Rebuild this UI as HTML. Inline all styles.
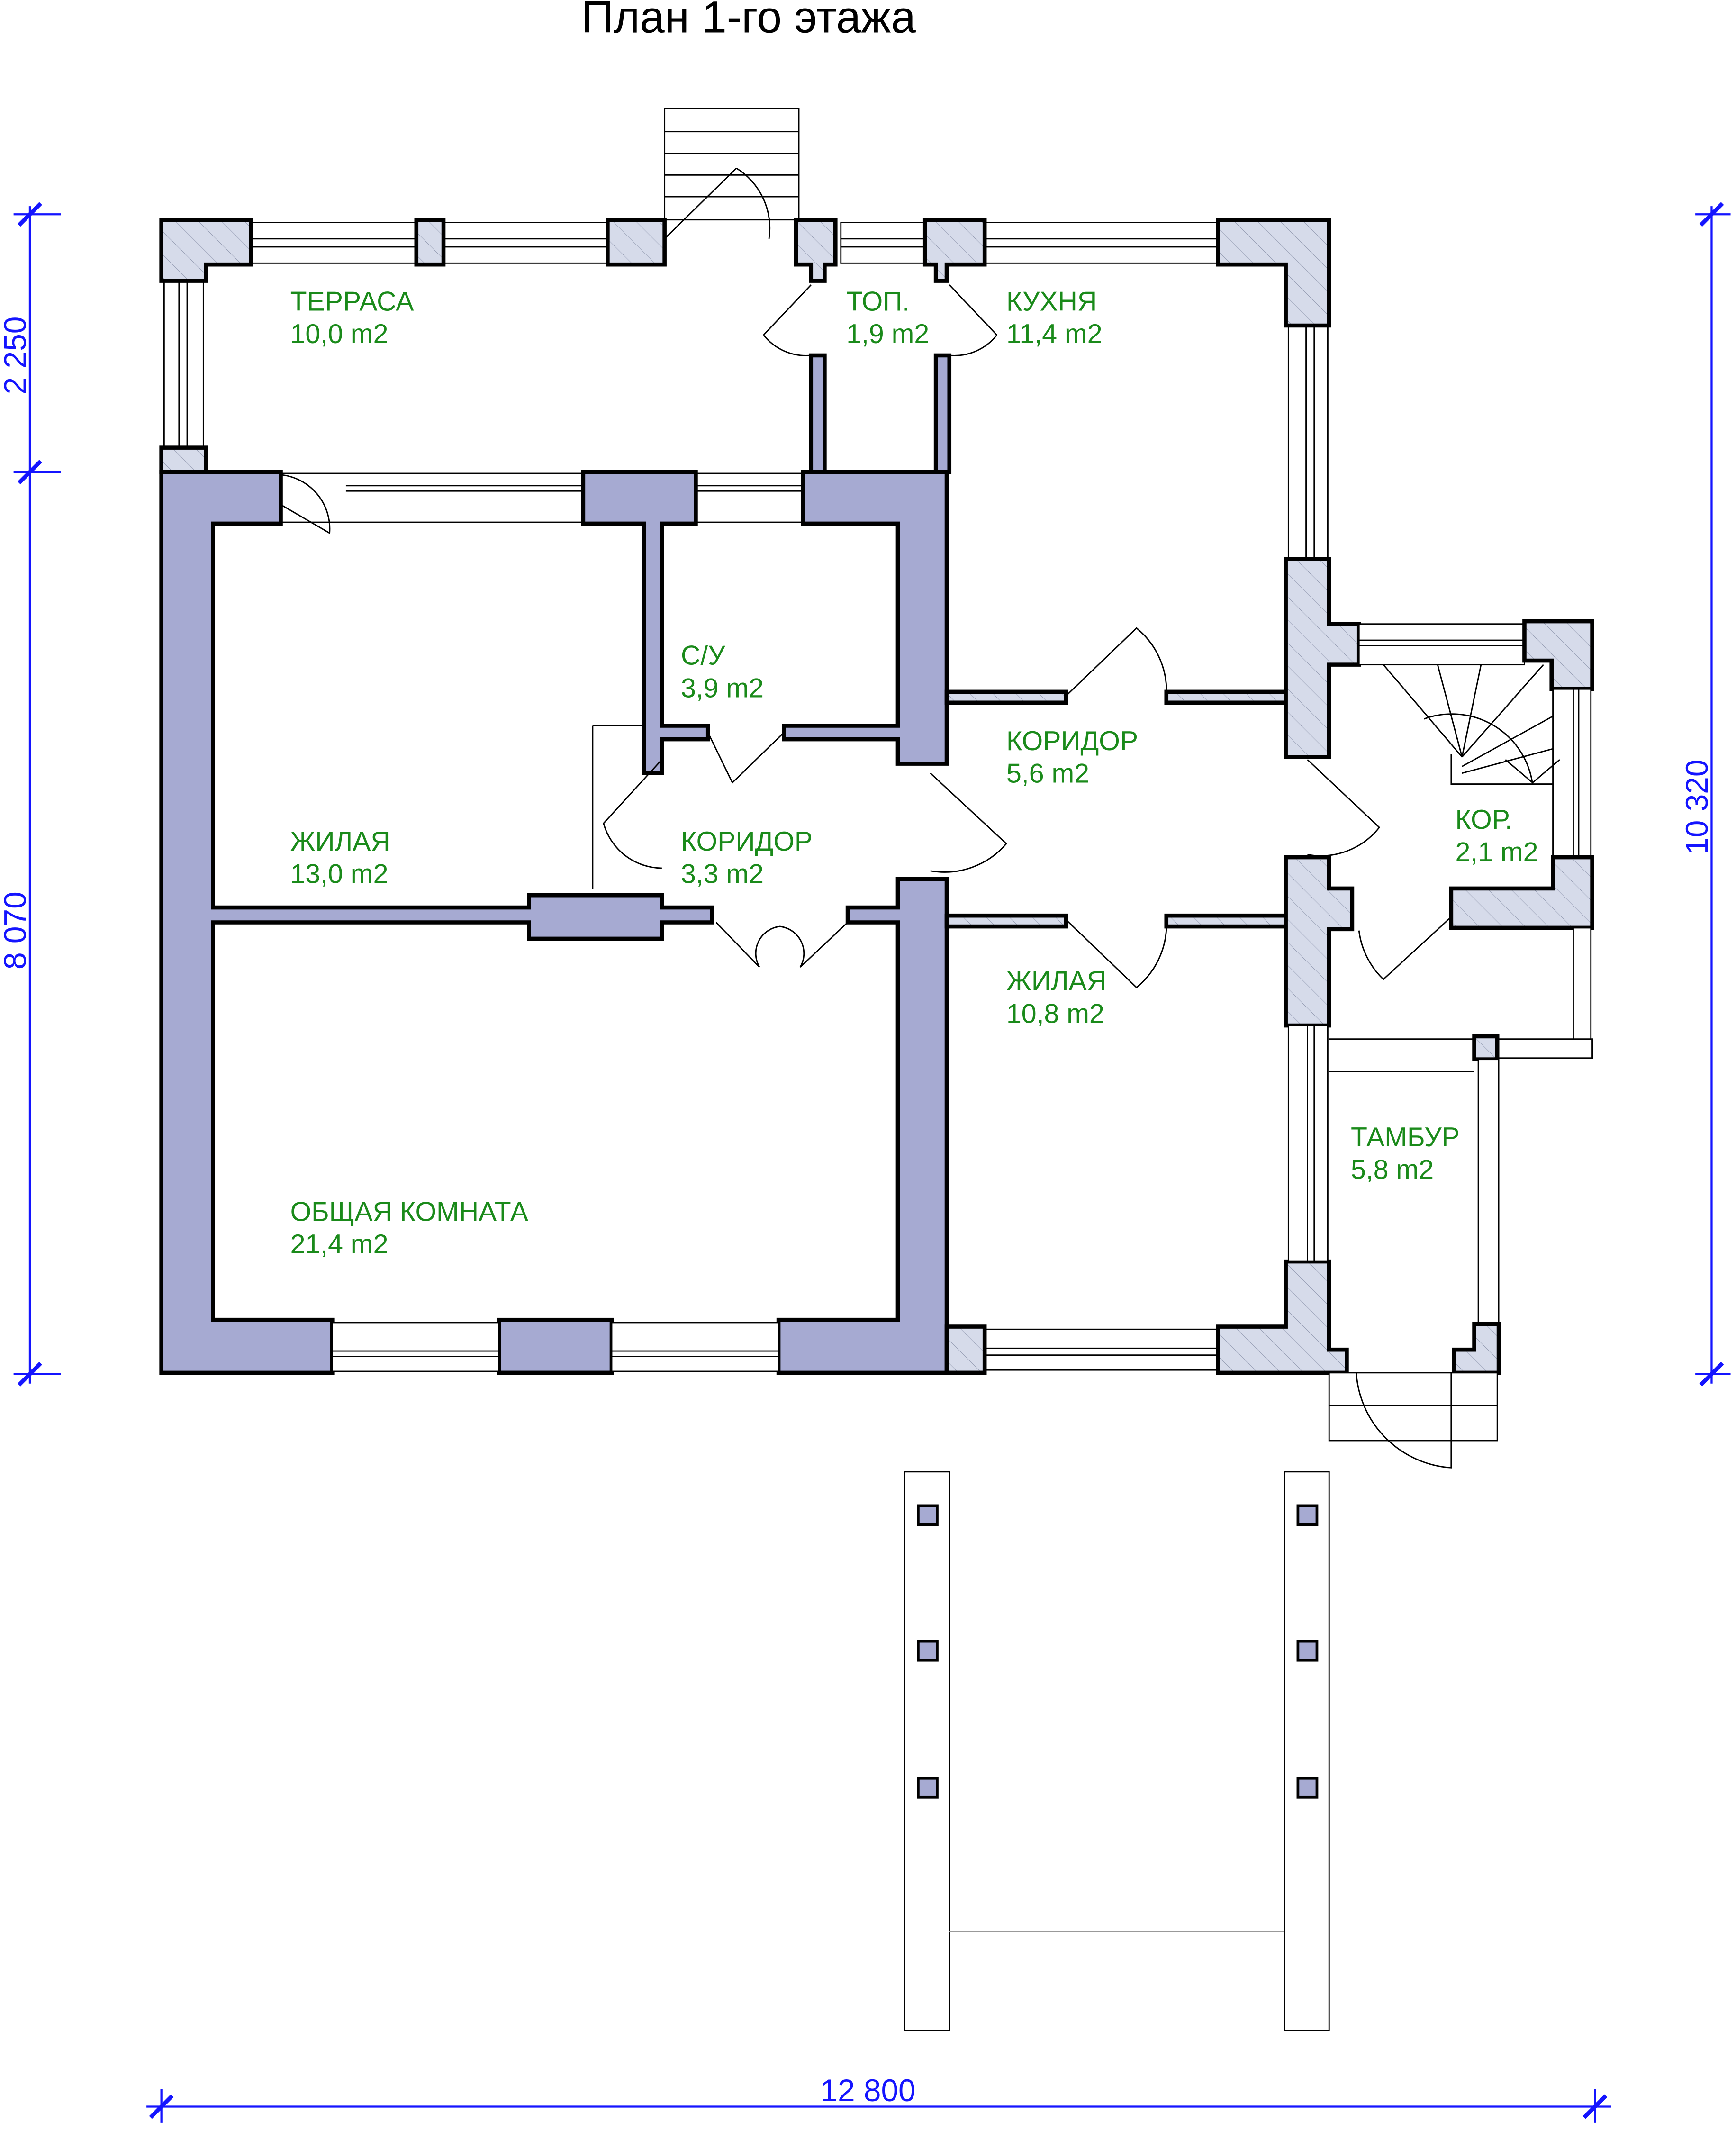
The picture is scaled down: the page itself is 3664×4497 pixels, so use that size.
<!DOCTYPE html>
<html><head><meta charset="utf-8"><style>html,body{margin:0;padding:0;background:#fff}svg{display:block}</style></head>
<body>
<svg xmlns="http://www.w3.org/2000/svg" width="3664" height="4497" viewBox="0 0 1280 1571">
<defs>
<pattern id="h" patternUnits="userSpaceOnUse" width="12" height="12" patternTransform="rotate(-45)">
<rect width="12" height="12" fill="#d6dbea"/><line x1="0" y1="0" x2="0" y2="12" stroke="#8890a8" stroke-width="0.6"/>
</pattern>
</defs>
<style>
.p{fill:#a6aad2;stroke:#000;stroke-width:3}
.hh{fill:url(#h);stroke:#000;stroke-width:3}
.w{fill:#fff;stroke:#000;stroke-width:1}
.t{fill:none;stroke:#000;stroke-width:1}
.g{font-family:"Liberation Sans",sans-serif;font-size:20px;fill:#1a8a1a}
.b{font-family:"Liberation Sans",sans-serif;font-size:23px;fill:#1414ff}
.d{stroke:#1414ff;stroke-width:1.5}
.dt{stroke:#1414ff;stroke-width:3}
</style>
<rect width="1280" height="1571" fill="#fff"/>
<text x="552" y="24" text-anchor="middle" font-family="Liberation Sans,sans-serif" font-size="33" fill="#000">План 1-го этажа</text>

<rect x="490" y="80" width="99" height="82" class="w"/>
<line x1="490" y1="97" x2="589" y2="97" class="t"/><line x1="490" y1="113" x2="589" y2="113" class="t"/><line x1="490" y1="129" x2="589" y2="129" class="t"/><line x1="490" y1="145" x2="589" y2="145" class="t"/>
<line x1="490" y1="176" x2="543" y2="124" class="t" stroke-width="2"/>
<path d="M543 124 A52 52 0 0 1 567 176" class="t"/>

<rect x="185" y="164" width="122" height="30" class="w"/><line x1="185" y1="176" x2="307" y2="176" class="t"/><line x1="185" y1="182" x2="307" y2="182" class="t"/>
<rect x="327" y="164" width="121" height="30" class="w"/><line x1="327" y1="176" x2="448" y2="176" class="t"/><line x1="327" y1="182" x2="448" y2="182" class="t"/>
<rect x="620" y="164" width="62" height="30" class="w"/><line x1="620" y1="176" x2="682" y2="176" class="t"/><line x1="620" y1="182" x2="682" y2="182" class="t"/>
<rect x="726" y="164" width="172" height="30" class="w"/><line x1="726" y1="176" x2="898" y2="176" class="t"/><line x1="726" y1="182" x2="898" y2="182" class="t"/>
<rect x="121" y="207" width="29" height="123" class="w"/><line x1="132" y1="207" x2="132" y2="330" class="t"/><line x1="138" y1="207" x2="138" y2="330" class="t"/>
<rect x="950" y="240" width="29" height="172" class="w"/><line x1="963" y1="240" x2="963" y2="412" class="t"/><line x1="969" y1="240" x2="969" y2="412" class="t"/>
<rect x="207" y="349" width="223" height="36" class="w"/><line x1="255" y1="358" x2="430" y2="358" class="t"/><line x1="255" y1="362" x2="430" y2="362" class="t"/>
<rect x="513" y="349" width="79" height="36" class="w"/><line x1="513" y1="358" x2="592" y2="358" class="t"/><line x1="513" y1="362" x2="592" y2="362" class="t"/>

<path d="M119 162 H185 V195 H152 V207 H119 Z" class="hh"/>
<rect x="307" y="162" width="20" height="33" class="hh"/>
<rect x="448" y="162" width="42" height="33" class="hh"/>
<path d="M587 162 H616 V195 H608 V207 H598 V195 H587 Z" class="hh"/>
<path d="M682 162 H726 V195 H698 V207 H690 V195 H682 Z" class="hh"/>
<path d="M898 162 H980 V240 H948 V195 H898 Z" class="hh"/>
<rect x="119" y="330" width="33" height="18" class="hh"/>
<rect x="598" y="262" width="10" height="86" class="p"/>
<rect x="690" y="262" width="10" height="86" class="p"/>
<path d="M563 247 L598 210 M563 247 A40 40 0 0 0 598 262" class="t" stroke-width="1.5"/>
<path d="M735 247 L700 210 M735 247 A40 40 0 0 1 700 262" class="t" stroke-width="1.5"/>

<path d="M119 348 H207 V386 H157 V669 H390 V660 H488 V669 H525 V680 H488 V692 H390 V680 H157 V973 H245 V1012 H119 Z" class="p"/>
<path d="M430 348 H513 V386 H488 V535 H522 V545 H488 V570 H475 V386 H430 Z" class="p"/>
<path d="M592 348 H698 V563 H662 V545 H578 V535 H662 V386 H592 Z" class="p"/>
<path d="M662 648 H698 V1012 H574 V973 H662 V680 H625 V669 H662 Z" class="p"/>
<rect x="368" y="973" width="83" height="39" class="p"/>
<rect x="245" y="975" width="123" height="36" class="w"/><line x1="245" y1="996" x2="368" y2="996" class="t"/><line x1="245" y1="1000" x2="368" y2="1000" class="t"/>
<rect x="451" y="975" width="123" height="36" class="w"/><line x1="451" y1="996" x2="574" y2="996" class="t"/><line x1="451" y1="1000" x2="574" y2="1000" class="t"/>
<rect x="726" y="980" width="172" height="30" class="w"/><line x1="726" y1="994" x2="898" y2="994" class="t"/><line x1="726" y1="999" x2="898" y2="999" class="t"/>
<rect x="698" y="978" width="28" height="34" class="hh"/>
<path d="M948 930 H980 V995 H993 V1012 H898 V978 H948 Z" class="hh"/>

<rect x="698" y="510" width="88" height="8" class="hh"/>
<rect x="860" y="510" width="90" height="8" class="hh"/>
<rect x="698" y="675" width="88" height="8" class="hh"/>
<rect x="860" y="675" width="90" height="8" class="hh"/>
<path d="M948 412 H980 V460 H1002 V490 H980 V558 H948 Z" class="hh"/>
<path d="M948 632 H980 V655 H997 V685 H980 V756 H948 Z" class="hh"/>
<rect x="1002" y="460" width="122" height="30" class="w"/><line x1="1002" y1="472" x2="1124" y2="472" class="t"/><line x1="1002" y1="476" x2="1124" y2="476" class="t"/>
<path d="M1124 458 H1174 V508 H1144 V487 H1124 Z" class="hh"/>
<rect x="1145" y="508" width="28" height="124" class="w"/><line x1="1160" y1="508" x2="1160" y2="632" class="t"/><line x1="1164" y1="508" x2="1164" y2="632" class="t"/>
<path d="M1145 632 H1174 V684 H1070 V655 H1145 Z" class="hh"/>
<g class="t" stroke-width="1.2">
<line x1="1020" y1="490" x2="1078" y2="558"/><line x1="1060" y1="490" x2="1078" y2="558"/><line x1="1092" y1="490" x2="1078" y2="558"/><line x1="1138" y1="490" x2="1078" y2="558"/>
<line x1="1078" y1="565" x2="1145" y2="528"/><line x1="1078" y1="570" x2="1145" y2="552"/>
<path d="M1070 556 V578 H1145"/>
<path d="M1050 530 A60 60 0 0 1 1130 578"/>
<path d="M1110 560 L1130 577 L1150 560"/>
</g>
<g class="t" stroke-width="1.5">
<path d="M786 513 L838 463 A60 60 0 0 1 860 513"/>
<path d="M786 678 L838 728 A60 60 0 0 0 860 678"/>
<path d="M964 560 L1017 610 A55 55 0 0 1 964 630"/>
<path d="M1002 686 A60 60 0 0 0 1020 722 L1070 676"/>
<path d="M488 560 L445 607 A45 45 0 0 0 488 640"/>
<path d="M686 570 L742 622 A60 60 0 0 1 686 642"/>
<path d="M522 540 L540 577 L578 540"/>
<path d="M528 680 L560 713 A20 20 0 0 1 575 683 A20 20 0 0 1 590 713 L625 680"/>
<path d="M207 372 L243 393 A40 40 0 0 0 207 350"/>
</g>
<line x1="437" y1="535" x2="475" y2="535" class="t"/><line x1="437" y1="535" x2="437" y2="655" class="t"/>
<rect x="950" y="756" width="29" height="174" class="w"/><line x1="964" y1="756" x2="964" y2="930" class="t"/><line x1="969" y1="756" x2="969" y2="930" class="t"/>
<rect x="1160" y="684" width="13" height="96" class="w"/>
<rect x="1104" y="766" width="70" height="14" class="w"/>
<rect x="1087" y="764" width="17" height="17" class="hh"/>
<rect x="1090" y="781" width="15" height="195" class="w"/>
<line x1="980" y1="766" x2="1087" y2="766" class="t"/><line x1="980" y1="790" x2="1087" y2="790" class="t"/>
<path d="M1087 976 H1105 V1012 H1072 V995 H1087 Z" class="hh"/>
<rect x="980" y="1012" width="124" height="50" class="w"/><line x1="980" y1="1036" x2="1104" y2="1036" class="t"/>
<path d="M1070 1012 V1082 A75 75 0 0 1 1000 1012" class="t" stroke-width="1.5"/>
<line x1="1070" y1="1012" x2="1070" y2="1082" class="t" stroke-width="2"/>

<g class="g">
<text x="214" y="229">ТЕРРАСА</text><text x="214" y="253">10,0 m2</text>
<text x="624" y="229">ТОП.</text><text x="624" y="253">1,9 m2</text>
<text x="742" y="229">КУХНЯ</text><text x="742" y="253">11,4 m2</text>
<text x="502" y="490">С/У</text><text x="502" y="514">3,9 m2</text>
<text x="742" y="553">КОРИДОР</text><text x="742" y="577">5,6 m2</text>
<text x="214" y="627">ЖИЛАЯ</text><text x="214" y="651">13,0 m2</text>
<text x="502" y="627">КОРИДОР</text><text x="502" y="651">3,3 m2</text>
<text x="1073" y="611">КОР.</text><text x="1073" y="635">2,1 m2</text>
<text x="742" y="730">ЖИЛАЯ</text><text x="742" y="754">10,8 m2</text>
<text x="996" y="845">ТАМБУР</text><text x="996" y="869">5,8 m2</text>
<text x="214" y="900">ОБЩАЯ КОМНАТА</text><text x="214" y="924">21,4 m2</text>
</g>

<rect x="667" y="1085" width="33" height="412" class="w"/>
<rect x="947" y="1085" width="33" height="412" class="w"/>
<line x1="700" y1="1424" x2="947" y2="1424" stroke="#999" stroke-width="1"/>
<g fill="#a6aad2" stroke="#000" stroke-width="2">
<rect x="677" y="1110" width="14" height="14"/><rect x="677" y="1210" width="14" height="14"/><rect x="677" y="1311" width="14" height="14"/>
<rect x="957" y="1110" width="14" height="14"/><rect x="957" y="1210" width="14" height="14"/><rect x="957" y="1311" width="14" height="14"/>
</g>

<line x1="22" y1="152" x2="22" y2="1020" class="d"/>
<line x1="10" y1="158" x2="45" y2="158" class="d"/><line x1="10" y1="348" x2="45" y2="348" class="d"/><line x1="10" y1="1013" x2="45" y2="1013" class="d"/>
<line x1="14" y1="166" x2="30" y2="150" class="dt"/><line x1="14" y1="356" x2="30" y2="340" class="dt"/><line x1="14" y1="1021" x2="30" y2="1005" class="dt"/>
<text class="b" transform="translate(19,262) rotate(-90)" text-anchor="middle">2 250</text>
<text class="b" transform="translate(19,686) rotate(-90)" text-anchor="middle">8 070</text>
<line x1="1262" y1="152" x2="1262" y2="1020" class="d"/>
<line x1="1250" y1="158" x2="1276" y2="158" class="d"/><line x1="1250" y1="1013" x2="1276" y2="1013" class="d"/>
<line x1="1254" y1="166" x2="1270" y2="150" class="dt"/><line x1="1254" y1="1021" x2="1270" y2="1005" class="dt"/>
<text class="b" transform="translate(1259,595) rotate(-90)" text-anchor="middle">10 320</text>
<line x1="108" y1="1553" x2="1188" y2="1553" class="d"/>
<line x1="119" y1="1540" x2="119" y2="1565" class="d"/><line x1="1176" y1="1540" x2="1176" y2="1565" class="d"/>
<line x1="111" y1="1561" x2="127" y2="1545" class="dt"/><line x1="1168" y1="1561" x2="1184" y2="1545" class="dt"/>
<text class="b" x="640" y="1549" text-anchor="middle">12 800</text>
</svg>
</body></html>
